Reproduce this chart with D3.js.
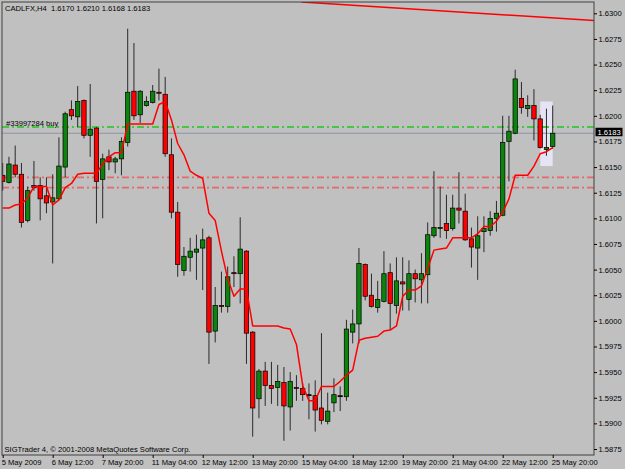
<!DOCTYPE html>
<html>
<head>
<meta charset="utf-8">
<script src="https://cdnjs.cloudflare.com/ajax/libs/d3/7.8.5/d3.min.js"></script>
<style>
    body { margin: 0; background: #c0c0c0; }
    svg { display: block; font-family: "Liberation Sans", Arial, sans-serif; }
</style>
</head>
<body>
<svg width="625" height="469"></svg>
<script>

// H4 bars, 5 May 2009 04:00 .. 25 May 2009 20:00
var opens = [1.6142, 1.6135, 1.6152, 1.6143, 1.6098, 1.6132, 1.6132, 1.6122, 1.6116, 1.6119,
    1.6150, 1.6206, 1.6199, 1.6215, 1.6181, 1.6188, 1.6138, 1.6160, 1.6155, 1.6158,
    1.6174, 1.6224, 1.6201, 1.6210, 1.6213, 1.6223, 1.6221, 1.6162, 1.6106, 1.6049,
    1.6062, 1.6067, 1.6071, 1.6081, 1.5990, 1.6015, 1.6014, 1.6047, 1.6046, 1.6068,
    1.5989, 1.5924, 1.5951, 1.5937, 1.5935, 1.5940, 1.5916, 1.5935, 1.5934, 1.5928,
    1.5927, 1.5915, 1.5902, 1.5920, 1.5927, 1.5926, 1.5989, 1.5997, 1.6055, 1.6025,
    1.6013, 1.6019, 1.6047, 1.6015, 1.6038, 1.6021, 1.6046, 1.6040, 1.6045, 1.6083,
    1.6090, 1.6095, 1.6090, 1.6110, 1.6107, 1.6080, 1.6071, 1.6087, 1.6088, 1.6100,
    1.6103, 1.6175, 1.6183, 1.6217, 1.6207, 1.6210, 1.6197, 1.6167, 1.6170];

var highs = [1.6154, 1.6160, 1.6171, 1.6154, 1.6131, 1.6156, 1.6140, 1.6140, 1.6143, 1.6179,
    1.6204, 1.6215, 1.6229, 1.6216, 1.6231, 1.6189, 1.6163, 1.6167, 1.6160, 1.6179,
    1.6285, 1.6271, 1.6225, 1.6219, 1.6230, 1.6246, 1.6238, 1.6178, 1.6116, 1.6072,
    1.6081, 1.6084, 1.6090, 1.6083, 1.6033, 1.6048, 1.6053, 1.6063, 1.6101, 1.6069,
    1.5990, 1.5953, 1.5960, 1.5960, 1.5957, 1.5955, 1.5950, 1.5947, 1.5939, 1.5939,
    1.5942, 1.5988, 1.5930, 1.5944, 1.5936, 1.6001, 1.6011, 1.6071, 1.6056, 1.6046,
    1.6039, 1.6068, 1.6056, 1.6062, 1.6062, 1.6059, 1.6050, 1.6066, 1.6096, 1.6146,
    1.6131, 1.6123, 1.6123, 1.6145, 1.6124, 1.6091, 1.6102, 1.6102, 1.6107, 1.6117,
    1.6200, 1.6200, 1.6245, 1.6233, 1.6220, 1.6226, 1.6201, 1.6207, 1.6210];

var lows = [1.6127, 1.6134, 1.6140, 1.6091, 1.6096, 1.6127, 1.6098, 1.6105, 1.6056, 1.6118,
    1.6140, 1.6196, 1.6189, 1.6178, 1.6160, 1.6095, 1.6100, 1.6147, 1.6144, 1.6142,
    1.6170, 1.6196, 1.6193, 1.6209, 1.6212, 1.6215, 1.6160, 1.6100, 1.6043, 1.6044,
    1.6048, 1.6040, 1.6030, 1.5958, 1.5979, 1.6008, 1.6008, 1.6033, 1.6017, 1.5958,
    1.5887, 1.5905, 1.5917, 1.5919, 1.5917, 1.5883, 1.5893, 1.5922, 1.5922, 1.5904,
    1.5892, 1.5899, 1.5899, 1.5911, 1.5912, 1.5922, 1.5978, 1.5978, 1.6020, 1.6013,
    1.6008, 1.6018, 1.5992, 1.6007, 1.6010, 1.6010, 1.6018, 1.6017, 1.6017, 1.6081,
    1.6081, 1.6080, 1.6088, 1.6095, 1.6078, 1.6052, 1.6040, 1.6067, 1.6083, 1.6087,
    1.6102, 1.6136, 1.6182, 1.6202, 1.6199, 1.6176, 1.6168, 1.6161, 1.6168];

var closes = [1.6136, 1.6153, 1.6143, 1.6096, 1.6127, 1.6130, 1.6119, 1.6115, 1.6120, 1.6151,
    1.6202, 1.6200, 1.6214, 1.6181, 1.6187, 1.6136, 1.6158, 1.6155, 1.6158, 1.6175,
    1.6223, 1.6200, 1.6224, 1.6214, 1.6224, 1.6222, 1.6163, 1.6106, 1.6055, 1.6063,
    1.6068, 1.6070, 1.6079, 1.5989, 1.6015, 1.6014, 1.6043, 1.6046, 1.6070, 1.5988,
    1.5915, 1.5951, 1.5937, 1.5934, 1.5941, 1.5917, 1.5941, 1.5934, 1.5928, 1.5928,
    1.5913, 1.5903, 1.5912, 1.5928, 1.5927, 1.5992, 1.5997, 1.6056, 1.6024, 1.6014,
    1.6021, 1.6046, 1.6017, 1.6039, 1.6036, 1.6046, 1.6041, 1.6046, 1.6084, 1.6091,
    1.6091, 1.6088, 1.6110, 1.6108, 1.6079, 1.6072, 1.6083, 1.6090, 1.6100, 1.6105,
    1.6174, 1.6185, 1.6236, 1.6208, 1.6210, 1.6197, 1.6169, 1.6169, 1.6183];

// red trailing indicator, one value per bar
var trail = [1.6110, 1.6110, 1.6113, 1.6114, 1.6120, 1.6131, 1.6131, 1.6131, 1.6113, 1.6118,
    1.6130, 1.6134, 1.6143, 1.6144, 1.6144, 1.6144, 1.6153, 1.6160, 1.6164, 1.6164,
    1.6192, 1.6192, 1.6192, 1.6192, 1.6192, 1.6211, 1.6214, 1.6196, 1.6173, 1.6162,
    1.6146, 1.6142, 1.6139, 1.6105, 1.6098, 1.6068, 1.6041, 1.6024, 1.6031, 1.6031,
    1.5995, 1.5995, 1.5995, 1.5995, 1.5995, 1.5993, 1.5992, 1.5977, 1.5937, 1.5922,
    1.5922, 1.5936, 1.5936, 1.5936, 1.5941, 1.5947, 1.5952, 1.5981, 1.5983, 1.5984,
    1.5985, 1.5990, 1.5991, 1.5995, 1.6024, 1.6030, 1.6030, 1.6034, 1.6051, 1.6069,
    1.6070, 1.6071, 1.6081, 1.6081, 1.6081, 1.6081, 1.6085, 1.6092, 1.6092, 1.6097,
    1.6106, 1.6119, 1.6142, 1.6142, 1.6142, 1.6151, 1.6163, 1.6165, 1.6169];

var xTickBars = [0, 8, 16, 24, 32, 40, 48, 56, 64, 72, 80, 88];
var xLabels = ["5 May 2009", "6 May 12:00", "7 May 20:00", "11 May 04:00", "12 May 12:00", "13 May 20:00",
    "15 May 04:00", "18 May 12:00", "19 May 20:00", "21 May 04:00", "22 May 12:00", "25 May 20:00"];
var yTicks = [1.6300, 1.6275, 1.6250, 1.6225, 1.6200, 1.6175, 1.6150, 1.6125, 1.6100, 1.6075,
    1.6050, 1.6025, 1.6000, 1.5975, 1.5950, 1.5925, 1.5900, 1.5875];

var buyLevel = [1.6189];                   // order line
var stopLevels = [1.6140, 1.6130];         // red dash-dot levels
var trendBars = [47.8, 94.6], trendPrices = [1.6311, 1.6293];
var boxBars = [86, 88], boxPrices = [1.6214, 1.6151];   // selection box

var svg = d3.select("svg"),
    width = +svg.attr("width"),
    height = +svg.attr("height"),
    plot = { left: 2, top: 2, right: 594, bottom: 455 },
    fontSize = 7.6;

var x = d3.scaleLinear().domain([0, opens.length - 1]).range([2.7, 552.7]);
var y = d3.scaleLinear().domain([1.5875, 1.6300]).range([449, 13.3]);

var bars = opens.map(function (o, i) {
    return { i: i, open: o, high: highs[i], low: lows[i], close: closes[i] };
});

svg.append("rect").attr("width", width).attr("height", height).attr("fill", "#c0c0c0");

svg.append("clipPath").attr("id", "clip")
    .append("rect")
    .attr("x", plot.left).attr("y", plot.top)
    .attr("width", plot.right - plot.left).attr("height", plot.bottom - plot.top);

var g = svg.append("g").attr("clip-path", "url(#clip)");

// selection box behind the last bars
g.append("rect")
    .attr("x", x(boxBars[0]))
    .attr("y", y(boxPrices[0]))
    .attr("width", x(boxBars[1]) - x(boxBars[0]))
    .attr("height", y(boxPrices[1]) - y(boxPrices[0]))
    .attr("fill", "#e4e4f4");

// horizontal levels
g.selectAll(".stop").data(stopLevels).enter().append("line")
    .attr("x1", plot.left).attr("x2", plot.right)
    .attr("y1", function (d) { return y(d); }).attr("y2", function (d) { return y(d); })
    .attr("stroke", "#e46a6a").attr("stroke-width", 1.9)
    .attr("stroke-dasharray", "7,3,2,3");

g.selectAll(".buy").data(buyLevel).enter().append("line")
    .attr("x1", plot.left).attr("x2", plot.right)
    .attr("y1", function (d) { return y(d); }).attr("y2", function (d) { return y(d); })
    .attr("stroke", "#44c844").attr("stroke-width", 2)
    .attr("stroke-dasharray", "7,3,2,3");

var last = closes[closes.length - 1];
g.append("line")                                        // bid line
    .attr("x1", plot.left).attr("x2", plot.right)
    .attr("y1", y(last)).attr("y2", y(last))
    .attr("stroke", "#8a94a2").attr("stroke-width", 1);

// trend line at the top
g.append("line")
    .attr("x1", x(trendBars[0])).attr("y1", y(trendPrices[0]))
    .attr("x2", x(trendBars[1])).attr("y2", y(trendPrices[1]))
    .attr("stroke", "#ff0000").attr("stroke-width", 1.6);

// candles
g.selectAll(".wick").data(bars).enter().append("line")
    .attr("x1", function (d) { return x(d.i); })
    .attr("x2", function (d) { return x(d.i); })
    .attr("y1", function (d) { return y(d.high); })
    .attr("y2", function (d) { return y(d.low); })
    .attr("stroke", "#2a2a2a").attr("stroke-width", 1);

g.selectAll(".body").data(bars).enter().append("rect")
    .attr("x", function (d) { return x(d.i) - 2.2; })
    .attr("y", function (d) { return y(Math.max(d.open, d.close)); })
    .attr("width", 4.4)
    .attr("height", function (d) { return Math.max(1, Math.abs(y(d.open) - y(d.close))); })
    .attr("fill", function (d) {
        if (d.close === d.open) return "#000";
        return d.close > d.open ? "#0a840a" : "#ff0000";
    })
    .attr("stroke", "#000").attr("stroke-width", 0.7);

// trailing indicator
var line = d3.line()
    .x(function (d, i) { return x(i); })
    .y(function (d) { return y(d); });

g.append("path")
    .datum(trail)
    .attr("fill", "none")
    .attr("stroke", "#ff0000")
    .attr("stroke-width", 1.5)
    .attr("stroke-linejoin", "round")
    .attr("d", line);

// frame
svg.append("rect")
    .attr("x", plot.left).attr("y", plot.top)
    .attr("width", plot.right - plot.left).attr("height", plot.bottom - plot.top)
    .attr("fill", "none").attr("stroke", "#404040").attr("stroke-width", 1);

// axes
var yAxis = svg.append("g")
    .attr("transform", "translate(" + plot.right + ",0)")
    .call(d3.axisRight(y).tickValues(yTicks).tickSize(3).tickPadding(1.5).tickFormat(d3.format(".4f")));
yAxis.select(".domain").remove();

var xAxis = svg.append("g")
    .attr("transform", "translate(0," + plot.bottom + ")")
    .call(d3.axisBottom(x).tickValues(xTickBars).tickSize(3).tickPadding(1.5)
        .tickFormat(function (d, i) { return xLabels[i]; }));
xAxis.select(".domain").remove();
xAxis.selectAll("text").attr("text-anchor", "start").attr("dx", -1.5);

svg.selectAll(".tick text").attr("font-size", fontSize).attr("fill", "#000");
svg.selectAll(".tick line").attr("stroke", "#000");
yAxis.attr("font-family", null);
xAxis.attr("font-family", null);

// current price label
svg.append("rect")
    .attr("x", plot.right + 1.5).attr("y", y(last) - 5.5)
    .attr("width", 27).attr("height", 8.5)
    .attr("fill", "#000");
svg.append("text")
    .attr("x", plot.right + 3.5).attr("y", y(last) - 1.3)
    .attr("dy", "0.35em")
    .attr("font-size", fontSize).attr("fill", "#fff")
    .text(d3.format(".4f")(last));

// texts
svg.append("text")
    .attr("x", 5).attr("y", 10.5)
    .attr("font-size", fontSize)
    .attr("xml:space", "preserve")
    .text("CADLFX,H4  " + [opens, highs, lows, closes].map(function (a) { return d3.format(".4f")(a[a.length - 1]); }).join(" "));

svg.append("text")
    .attr("x", 6).attr("y", y(buyLevel[0]) - 1)
    .attr("font-size", fontSize)
    .text("#33997284 buy");

svg.append("text")
    .attr("x", 4.5).attr("y", 452)
    .attr("font-size", fontSize)
    .text("SIGTrader 4, \u00a9 2001-2008 MetaQuotes Software Corp.");

</script>
</body>
</html>
